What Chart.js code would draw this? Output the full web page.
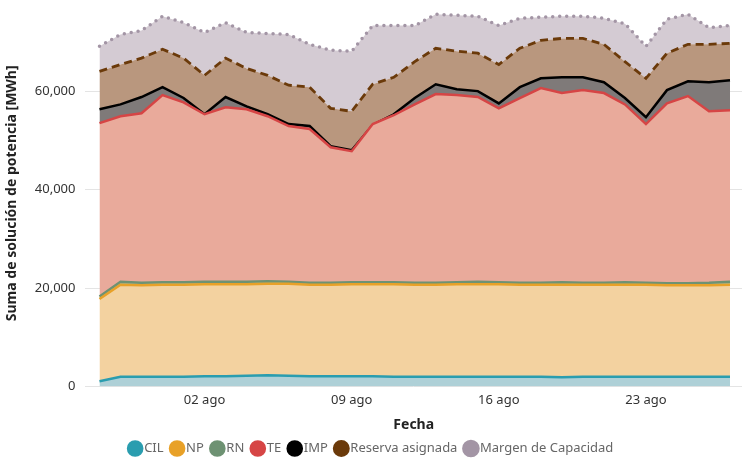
<!DOCTYPE html>
<html lang="es">
<head>
<meta charset="utf-8">
<script src="https://cdn.jsdelivr.net/npm/chart.js@4.4.1/dist/chart.umd.min.js"></script>
<style>
  html, body { margin: 0; padding: 0; background: #fff; }
  #wrap { width: 748px; height: 459px; }
</style>
</head>
<body>
<div id="wrap"><canvas id="myChart"></canvas></div>
<script>
// Fechas (28 jul - 27 ago)
const fechas = ['28 jul', '29 jul', '30 jul', '31 jul',
    '01 ago', '02 ago', '03 ago', '04 ago', '05 ago', '06 ago', '07 ago', '08 ago', '09 ago',
    '10 ago', '11 ago', '12 ago', '13 ago', '14 ago', '15 ago', '16 ago', '17 ago', '18 ago',
    '19 ago', '20 ago', '21 ago', '22 ago', '23 ago', '24 ago', '25 ago', '26 ago', '27 ago'];
const diasEtiqueta = [5, 12, 19, 26];
const ticksY = [0, 20000, 40000, 60000];

// Valores acumulados (MWh)
const cil = [1100, 2000, 2000, 2000, 2000, 2100, 2100, 2200, 2300, 2200, 2100, 2100, 2100, 2100, 2000, 2000,
    2000, 2000, 2000, 2000, 2000, 2000, 1900, 2000, 2000, 2000, 2000, 2000, 2000, 2000, 2000];
const np = [17800, 20700, 20600, 20700, 20700, 20800, 20800, 20800, 20900, 20900, 20700, 20700, 20800, 20800, 20800, 20700,
    20700, 20800, 20800, 20800, 20700, 20700, 20700, 20700, 20700, 20700, 20700, 20600, 20600, 20600, 20700];
const rn = [18300, 21300, 21100, 21200, 21200, 21300, 21300, 21300, 21400, 21300, 21100, 21100, 21200, 21200, 21200, 21100,
    21100, 21200, 21300, 21200, 21100, 21100, 21200, 21100, 21100, 21200, 21100, 21000, 21000, 21100, 21300];
const te = [53500, 54900, 55500, 59200, 57700, 55300, 56700, 56300, 54900, 52900, 52300, 48600, 47800, 53300, 55100, 57300,
    59400, 59200, 58800, 56500, 58600, 60600, 59600, 60200, 59600, 57300, 53300, 57500, 59000, 55900, 56100];
const imp = [56300, 57300, 58800, 60800, 58600, 55300, 58800, 56900, 55300, 53300, 52900, 48800, 48000, 53100, 55300, 58600,
    61400, 60400, 60000, 57500, 60800, 62600, 62800, 62800, 61800, 58600, 54700, 60200, 62000, 61800, 62200];
const reserva = [64000, 65400, 66700, 68500, 66700, 63200, 66700, 64600, 63200, 61200, 60800, 56500, 55900, 61400, 62800, 66000,
    68700, 68100, 67700, 65400, 68700, 70300, 70700, 70700, 69500, 66000, 62600, 67700, 69500, 69500, 69700];
const margen = [69100, 71500, 72300, 75200, 73900, 71900, 73900, 71900, 71700, 71500, 69500, 68300, 68100, 73300, 73300, 73300,
    75600, 75400, 75200, 73300, 74800, 75000, 75200, 75200, 74800, 73700, 69100, 74600, 75600, 72900, 73300];

const puntos = serie => serie.map((v, i) => ({ x: i, y: v }));

function serie(label, valores, linea, relleno, extra) {
    return Object.assign({
        label: label,
        data: puntos(valores),
        borderColor: linea,
        backgroundColor: relleno,
        pointBackgroundColor: linea,
        pointBorderColor: linea,
        pointRadius: 0,
        pointHoverRadius: 0,
        borderWidth: 2.5,
        tension: 0,
        fill: '-1'
    }, extra || {});
}

const fuente = "'Noto Sans', 'Open Sans', sans-serif";

const config = {
    type: 'line',
    data: {
        datasets: [
            serie('CIL', cil, '#2A9DAF', '#AED0D7', { fill: 'origin' }),
            serie('NP', np, '#E8A128', '#F3D2A0'),
            serie('RN', rn, '#6E9273', '#9DB89F'),
            serie('TE', te, '#D64545', '#E9AA9B'),
            serie('IMP', imp, '#000000', '#7F7A79'),
            serie('Reserva asignada', reserva, '#6B3A0A', '#B9977E', { borderDash: [8, 5], borderWidth: 2.8 }),
            serie('Margen de Capacidad', margen, '#A395A5', '#D4CBD3', { borderDash: [0, 7], borderCapStyle: 'round', borderWidth: 3.5 })
        ]
    },
    options: {
        responsive: true,
        maintainAspectRatio: false,
        animation: false,
        layout: { padding: { left: 4, right: 6, top: 0, bottom: -6 } },
        plugins: {
            legend: {
                display: true,
                position: 'bottom',
                labels: {
                    usePointStyle: true,
                    pointStyle: 'circle',
                    boxWidth: 5,
                    boxHeight: 10,
                    padding: 11,
                    color: '#666666',
                    font: { family: fuente, size: 13 }
                }
            },
            tooltip: { enabled: false }
        },
        scales: {
            x: {
                type: 'linear',
                min: -0.667,
                max: 30.57,
                afterBuildTicks: axis => { axis.ticks = diasEtiqueta.map(v => ({ value: v })); },
                grid: { display: false, drawTicks: false },
                border: { display: false },
                ticks: {
                    color: '#333333',
                    font: { family: fuente, size: 13 },
                    padding: 6,
                    maxRotation: 0,
                    callback: v => fechas[v]
                },
                title: {
                    display: true,
                    text: 'Fecha',
                    color: '#222222',
                    font: { family: fuente, size: 14, weight: 'bold' },
                    padding: { top: 2, bottom: -2 }
                }
            },
            y: {
                min: 0,
                max: 78500,
                afterBuildTicks: axis => { axis.ticks = ticksY.map(v => ({ value: v })); },
                afterFit: axis => { axis.paddingTop = 0; },
                grid: { color: '#E4E4E4', drawTicks: false },
                border: { display: false },
                ticks: {
                    color: '#333333',
                    font: { family: fuente, size: 13 },
                    padding: 10,
                    callback: v => v.toLocaleString('en-US')
                },
                title: {
                    display: true,
                    text: 'Suma de solución de potencia [MWh]',
                    color: '#222222',
                    font: { family: fuente, size: 14, weight: 'bold' },
                    padding: { top: 0, bottom: 4 }
                }
            }
        }
    }
};

const ctx = document.getElementById('myChart').getContext('2d');
new Chart(ctx, config);
</script>
</body>
</html>
